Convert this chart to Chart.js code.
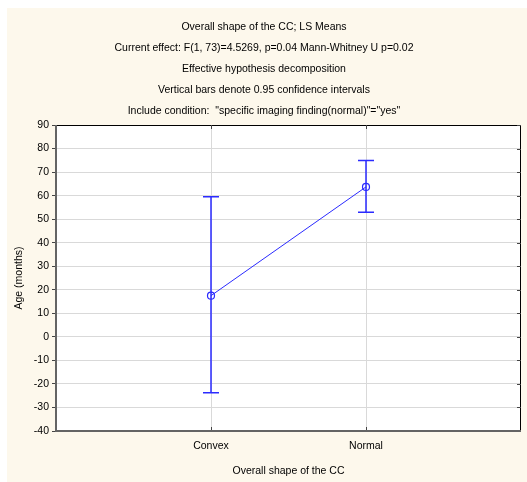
<!DOCTYPE html>
<html>
<head>
<meta charset="utf-8">
<script src="https://cdn.jsdelivr.net/npm/chart.js@4/dist/chart.umd.min.js"></script>
<style>
html, body { margin: 0; padding: 0; background: #fff; }
#wrap { position: absolute; left: 7px; top: 8px; width: 520px; height: 474px; background: #fdf8ec; }
</style>
</head>
<body>
<div id="wrap"><canvas id="c"></canvas></div>
<script>
var categories = ["Convex", "Normal"];
var means = [17.5, 63.7];
var lowerCI = [-23.7, 52.9];
var upperCI = [59.5, 74.9];
var yMin = -40, yMax = 90, yStep = 10;
var titleLines = [
  "Overall shape of the CC; LS Means",
  "Current effect: F(1, 73)=4.5269, p=0.04 Mann-Whitney U p=0.02",
  "Effective hypothesis decomposition",
  "Vertical bars denote 0.95 confidence intervals",
  "Include condition:  \"specific imaging finding(normal)\"=\"yes\""
];

var fontFam = "'Liberation Sans', Arial, sans-serif";
var fontSize = 10.5;
var blue = "#2b2bff";

var points = [];
for (var i = 0; i < categories.length; i++) {
  points.push({ x: i + 1, y: means[i] });
}

// white plot area + frame around it
var frame = {
  id: "frame",
  beforeDraw: function (chart) {
    var a = chart.chartArea, ctx = chart.ctx;
    ctx.save();
    ctx.fillStyle = "#ffffff";
    ctx.fillRect(a.left, a.top, a.right - a.left, a.bottom - a.top);
    ctx.restore();
  },
  afterDraw: function (chart) {
    var a = chart.chartArea, ctx = chart.ctx;
    var ys = chart.scales.y, xs = chart.scales.x;
    ctx.save();
    ctx.strokeStyle = "#000";
    ctx.lineWidth = 1;
    ctx.beginPath();
    ctx.moveTo(a.left, a.top + 0.5);
    ctx.lineTo(a.right - 0.5, a.top + 0.5);
    ctx.lineTo(a.right - 0.5, a.bottom);
    ctx.stroke();
    // small ticks on right and top
    ctx.strokeStyle = "#444";
    ys.ticks.forEach(function (t) {
      var y = Math.round(ys.getPixelForValue(t.value)) + 0.5;
      ctx.beginPath();
      ctx.moveTo(a.right - 4, y);
      ctx.lineTo(a.right, y);
      ctx.stroke();
    });
    xs.ticks.forEach(function (t) {
      var x = Math.round(xs.getPixelForValue(t.value)) + 0.5;
      ctx.beginPath();
      ctx.moveTo(x, a.top);
      ctx.lineTo(x, a.top + 4);
      ctx.moveTo(x, a.bottom);
      ctx.lineTo(x, a.bottom - 4);
      ctx.stroke();
    });
    ctx.strokeStyle = "#646464";
    ctx.lineWidth = 2;
    ctx.beginPath();
    ctx.moveTo(a.left, a.top);
    ctx.lineTo(a.left, a.bottom);
    ctx.lineTo(a.right, a.bottom);
    ctx.stroke();
    ctx.restore();
  }
};

// confidence interval bars
var errorBars = {
  id: "errorBars",
  afterDatasetsDraw: function (chart) {
    var ctx = chart.ctx, xs = chart.scales.x, ys = chart.scales.y;
    ctx.save();
    ctx.strokeStyle = blue;
    ctx.lineWidth = 1.5;
    for (var i = 0; i < categories.length; i++) {
      var x = xs.getPixelForValue(i + 1);
      var yl = ys.getPixelForValue(lowerCI[i]);
      var yu = ys.getPixelForValue(upperCI[i]);
      ctx.beginPath();
      ctx.moveTo(x, yl);
      ctx.lineTo(x, yu);
      ctx.moveTo(x - 8, yl);
      ctx.lineTo(x + 8, yl);
      ctx.moveTo(x - 8, yu);
      ctx.lineTo(x + 8, yu);
      ctx.stroke();
    }
    ctx.restore();
  }
};

var ctx = document.getElementById("c");
var chart = new Chart(ctx, {
  type: "line",
  data: {
    datasets: [{
      data: points,
      borderColor: blue,
      borderWidth: 1,
      pointRadius: 3.5,
      pointBackgroundColor: "rgba(255,255,255,0)",
      pointBorderColor: blue,
      pointBorderWidth: 1.2,
      tension: 0
    }]
  },
  options: {
    responsive: true,
    maintainAspectRatio: false,
    animation: false,
    layout: { padding: { left: 0, right: 6, top: 0, bottom: 0 } },
    plugins: {
      legend: { display: false },
      tooltip: { enabled: false },
      title: {
        display: true,
        text: titleLines,
        color: "#000",
        font: { family: fontFam, size: fontSize, weight: "normal", lineHeight: 2 },
        padding: { top: 9, bottom: 3 }
      }
    },
    scales: {
      x: {
        type: "linear",
        min: 0,
        max: 3,
        afterBuildTicks: function (scale) {
          scale.ticks = categories.map(function (c, i) { return { value: i + 1 }; });
        },
        afterFit: function (scale) { scale.height = 51; },
        ticks: {
          color: "#000",
          font: { family: fontFam, size: fontSize },
          padding: 9,
          callback: function (v) { return categories[v - 1]; }
        },
        grid: { color: "#d9d9d9", drawTicks: false },
        border: { display: false },
        title: {
          display: true,
          text: "Overall shape of the CC",
          color: "#000",
          font: { family: fontFam, size: fontSize },
          padding: { top: 0, bottom: 5 }
        }
      },
      y: {
        min: yMin,
        max: yMax,
        afterFit: function (scale) { scale.width = 49; },
        ticks: {
          stepSize: yStep,
          color: "#000",
          font: { family: fontFam, size: fontSize },
          padding: 3
        },
        grid: { color: "#d9d9d9", tickColor: "#444", tickLength: 4 },
        border: { display: false },
        title: {
          display: true,
          text: "Age (months)",
          color: "#000",
          font: { family: fontFam, size: fontSize },
          padding: { top: 6, bottom: 0 }
        }
      }
    }
  },
  plugins: [frame, errorBars]
});
</script>
</body>
</html>
